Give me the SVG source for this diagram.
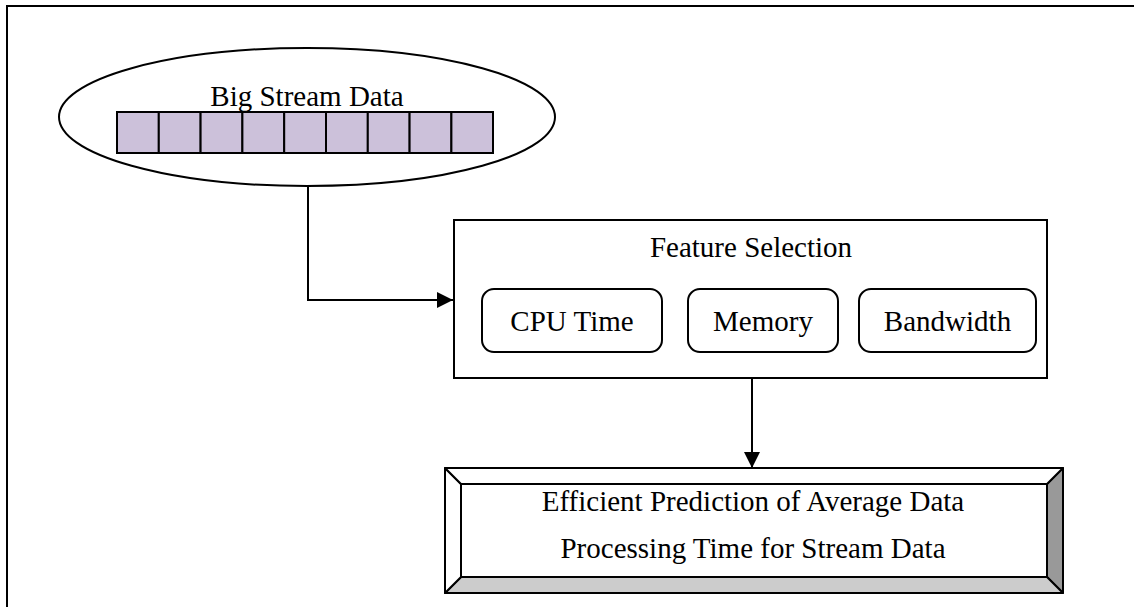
<svg xmlns="http://www.w3.org/2000/svg" width="1134" height="607" viewBox="0 0 1134 607">
<style>
.t{font-family:"Liberation Serif","Times New Roman",serif;font-size:29px;fill:#000;text-anchor:middle}
.s{fill:none;stroke:#000;stroke-width:2}
.cell{fill:#CCC1DA;stroke:#000;stroke-width:2}
.rb{fill:#fff;stroke:#000;stroke-width:2}
</style>
<defs>
<marker id="ah" markerWidth="16" markerHeight="16" refX="16" refY="8" orient="auto" markerUnits="userSpaceOnUse">
<path d="M0,0 L16,8 L0,16 Z" fill="#000"/>
</marker>
</defs>
<rect x="7" y="6" width="1140" height="620" fill="#fff" stroke="#000" stroke-width="2"/>
<g id="big-stream-data">
<ellipse cx="307" cy="117" rx="248" ry="69" class="rb"/>
<text x="307" y="106" class="t">Big Stream Data</text>
<rect x="117" y="112" width="41.8" height="41" class="cell"/>
<rect x="158.8" y="112" width="41.8" height="41" class="cell"/>
<rect x="200.6" y="112" width="41.8" height="41" class="cell"/>
<rect x="242.4" y="112" width="41.8" height="41" class="cell"/>
<rect x="284.2" y="112" width="41.8" height="41" class="cell"/>
<rect x="326" y="112" width="41.8" height="41" class="cell"/>
<rect x="367.8" y="112" width="41.8" height="41" class="cell"/>
<rect x="409.6" y="112" width="41.8" height="41" class="cell"/>
<rect x="451.4" y="112" width="41.6" height="41" class="cell"/>
</g>
<g id="feature-selection">
<rect x="454" y="220" width="593" height="158" class="rb"/>
<text x="751" y="257" class="t">Feature Selection</text>
</g>
<g id="cpu-time">
<rect x="482" y="289" width="180" height="63" rx="12" ry="12" class="rb"/>
<text x="572" y="331" class="t">CPU Time</text>
</g>
<g id="memory">
<rect x="688" y="289" width="150" height="63" rx="12" ry="12" class="rb"/>
<text x="763" y="331" class="t">Memory</text>
</g>
<g id="bandwidth">
<rect x="859" y="289" width="177" height="63" rx="12" ry="12" class="rb"/>
<text x="947.5" y="331" class="t">Bandwidth</text>
</g>
<g id="prediction">
<rect x="445" y="468" width="618" height="125" fill="#fff"/>
<polygon points="1063,468 1063,593 1047,577 1047,484" fill="#999" stroke="#000" stroke-width="2" stroke-linejoin="round"/>
<polygon points="445,593 1063,593 1047,577 461,577" fill="#ccc" stroke="#000" stroke-width="2" stroke-linejoin="round"/>
<polygon points="445,468 461,484 461,577 445,593" fill="#fff" stroke="#000" stroke-width="2" stroke-linejoin="round"/>
<polygon points="445,468 1063,468 1047,484 461,484" fill="#fff" stroke="#000" stroke-width="2" stroke-linejoin="round"/>
<rect x="461" y="484" width="586" height="93" class="rb"/>
<text x="753" y="511" class="t">Efficient Prediction of Average Data</text>
<text x="753" y="558" class="t">Processing Time for Stream Data</text>
</g>
<g id="connectors">
<path d="M308,186 L308,300 L453,300" class="s" marker-end="url(#ah)"/>
<path d="M752,378 L752,468" class="s" marker-end="url(#ah)"/>
</g>
</svg>
